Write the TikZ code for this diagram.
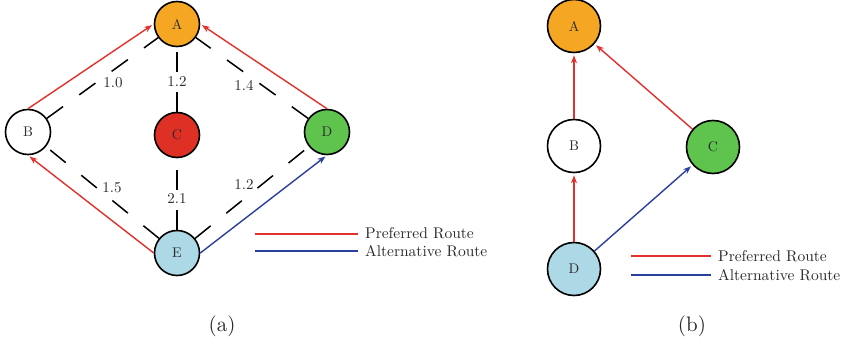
\documentclass[tikz,border=0pt]{standalone}
\usepackage{graphicx}
\usetikzlibrary{arrows.meta}
\definecolor{nodeA}{HTML}{F5A623}
\definecolor{nodeC}{HTML}{DE3024}
\definecolor{nodeD}{HTML}{5EC44E}
\definecolor{nodeE}{HTML}{ADD8E6}
\definecolor{prefred}{HTML}{E2302A}
\definecolor{altblue}{HTML}{2B3F9E}
\definecolor{txt}{HTML}{2A2A2A}
\newcommand{\sclt}[2]{\scalebox{#1}{#2}}
\begin{document}
\begin{tikzpicture}[x=1pt,y=-1pt,
  vtx/.style={circle,draw=black,line width=1.6pt,minimum size=45pt,inner sep=0pt,
    font=\fontsize{10}{12}\selectfont,text=txt},
  bigvtx/.style={vtx,minimum size=53pt},
  dashedge/.style={draw=black,line width=1.5pt,dash pattern=on 20pt off 20pt},
  pref/.style={draw=prefred,line width=1.4pt,-{Stealth[length=8pt,width=6pt]},shorten >=2pt},
  alt/.style={draw=altblue,line width=1.4pt,-{Stealth[length=8pt,width=6pt]},shorten >=2pt},
  legline/.style={line width=1.6pt},
  wlabel/.style={inner sep=0pt,font=\fontsize{10}{12}\selectfont,text=txt},
  legtext/.style={inner sep=0pt,anchor=west,font=\fontsize{10}{12}\selectfont,text=txt},
  subcap/.style={inner sep=0pt,font=\fontsize{10}{12}\selectfont,text=txt}]
\useasboundingbox (0,0) rectangle (847,345);
% ---------------- panel (a)
\node[vtx,fill=nodeA] (A) at (177,24) {\sclt{1.4}{A}};
\node[vtx,fill=white] (B) at (28,132) {\sclt{1.4}{B}};
\node[vtx,fill=nodeC] (C) at (177,135) {\sclt{1.4}{C}};
\node[vtx,fill=nodeD] (D) at (327,132) {\sclt{1.4}{D}};
\node[vtx,fill=nodeE] (E) at (177,253) {\sclt{1.4}{E}};
\draw[dashedge] (B) -- (A);
\draw[dashedge] (C) -- (A);
\draw[dashedge] (D) -- (A);
\draw[dashedge] (E) -- (B);
\draw[dashedge] (E) -- (C);
\draw[dashedge] (E) -- (D);
\node[wlabel] (l1) at (113,83) {\sclt{1.5}{1.0}};
\node[wlabel] (l2) at (177,82) {\sclt{1.5}{1.2}};
\node[wlabel] (l3) at (244,85) {\sclt{1.5}{1.4}};
\node[wlabel] (l4) at (112,188) {\sclt{1.5}{1.5}};
\node[wlabel] (l5) at (177,199) {\sclt{1.5}{2.1}};
\node[wlabel] (l6) at (244,185) {\sclt{1.5}{1.2}};
\draw[pref] (B.north) -- (A.west);
\draw[pref] (E.west) -- (B.south);
\draw[pref] (D.north) -- (A.east);
\draw[alt] (E.east) -- (D.south);
% legend (a)
\node[legtext] (pa) at (365,233) {\sclt{1.55}{Preferred Route}};
\node[legtext] (aa) at (365,251) {\sclt{1.55}{Alternative Route}};
\coordinate (pa0) at (255,234);
\coordinate (pa1) at (358,234);
\coordinate (aa0) at (255,251);
\coordinate (aa1) at (358,251);
\draw[legline,prefred] (pa0) -- (pa1);
\draw[legline,altblue] (aa0) -- (aa1);
\node[subcap] (capa) at (222,326) {\sclt{2.1}{(a)}};
% ---------------- panel (b)
\node[bigvtx,fill=nodeA] (bA) at (574,26) {\sclt{1.4}{A}};
\node[bigvtx,fill=white] (bB) at (574,146) {\sclt{1.4}{B}};
\node[bigvtx,fill=nodeD] (bC) at (713,147) {\sclt{1.4}{C}};
\node[bigvtx,fill=nodeE] (bD) at (574,269) {\sclt{1.4}{D}};
\draw[pref] (bB) -- (bA);
\draw[pref] (bD) -- (bB);
\draw[pref] (bC) -- (bA);
\draw[alt] (bD) -- (bC);
% legend (b)
\node[legtext] (pb) at (718,256) {\sclt{1.55}{Preferred Route}};
\node[legtext] (ab) at (718,275) {\sclt{1.55}{Alternative Route}};
\coordinate (pb0) at (631,256);
\coordinate (pb1) at (711,256);
\coordinate (ab0) at (631,275);
\coordinate (ab1) at (711,275);
\draw[legline,prefred] (pb0) -- (pb1);
\draw[legline,altblue] (ab0) -- (ab1);
\node[subcap] (capb) at (692,326) {\sclt{2.1}{(b)}};
\end{tikzpicture}
\end{document}
